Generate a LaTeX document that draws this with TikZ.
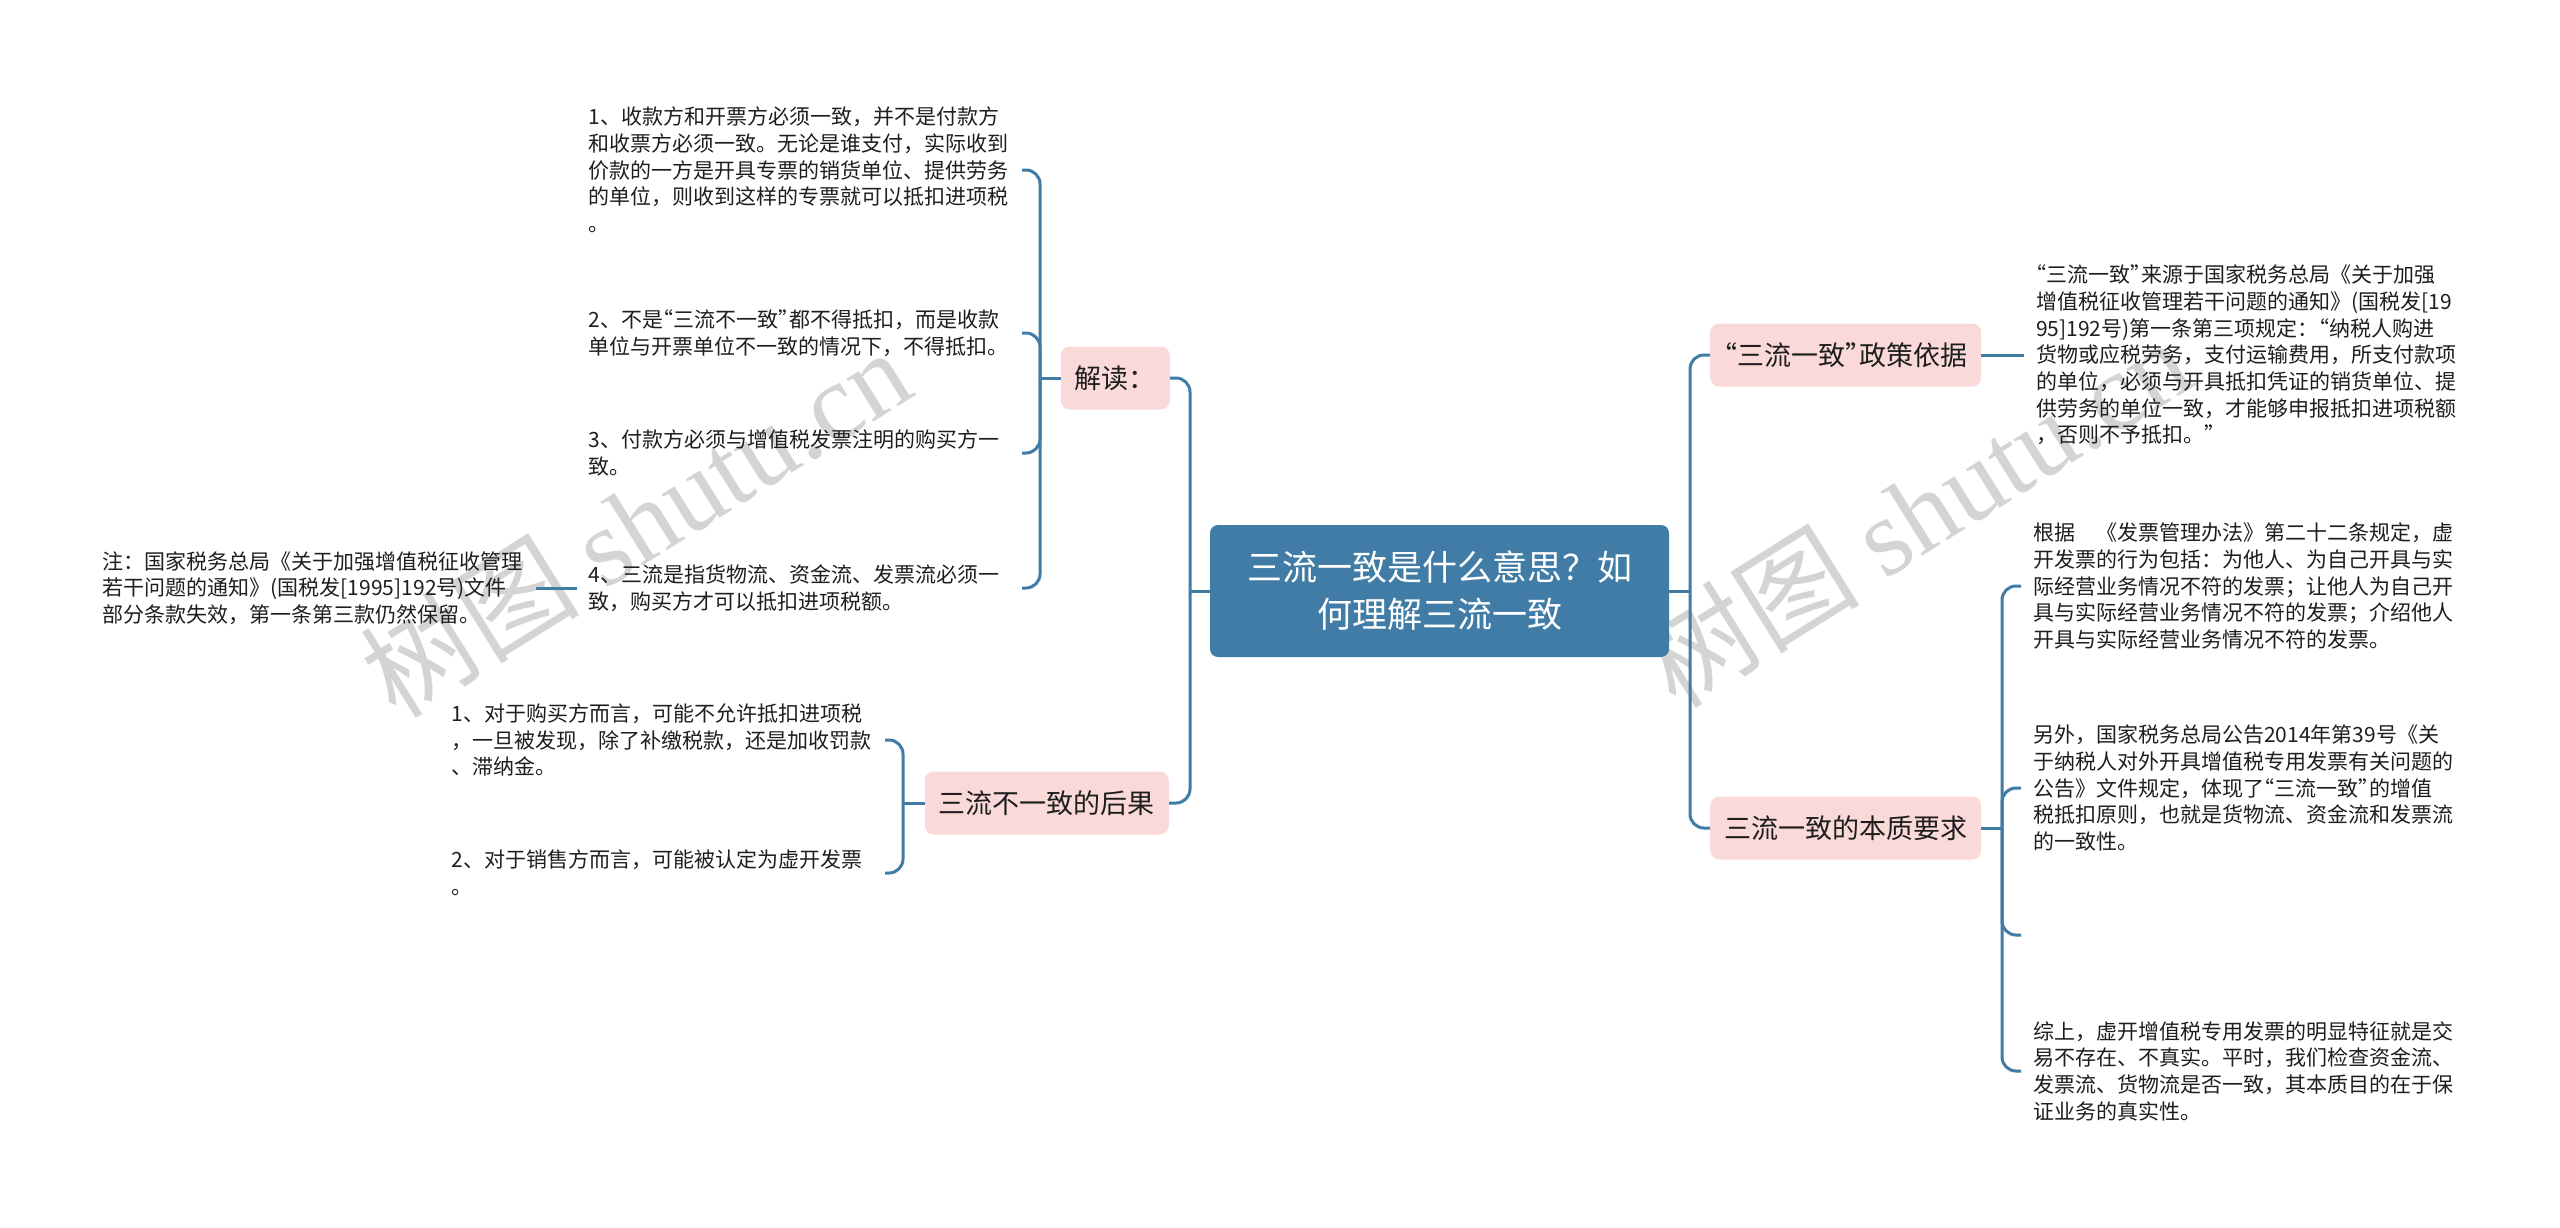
\documentclass[tikz,border=0pt]{standalone}
\usepackage{fontspec}
\setmainfont{Noto Sans CJK SC}
\newfontfamily\wmlatin{Liberation Serif}
\newcommand{\qopen}{\makebox[0.5em][r]{“}}
\newcommand{\qclose}{\makebox[0.5em][l]{”}}
\definecolor{mapblue}{RGB}{64,124,165}
\definecolor{mappink}{RGB}{250,217,217}
\definecolor{leafink}{RGB}{30,30,30}
\tikzset{
  link/.style={draw=mapblue, line width=3pt, rounded corners=14pt},
  rootbox/.style={fill=mapblue, text=white, rounded corners=8pt, minimum width=459pt, minimum height=132pt, align=center, font=\fontsize{35}{47}\selectfont},
  topicbox/.style={fill=mappink, text=leafink, rounded corners=9pt, minimum height=63pt, inner xsep=14pt, font=\fontsize{27}{32}\selectfont},
  leaftext/.style={text=leafink, text width=421pt, align=left, inner xsep=12pt, inner ysep=0pt, font=\fontsize{21}{26.7}\selectfont},
  watermark/.style={text=black!17, rotate=32, font=\fontsize{110}{110}\selectfont}
}
\begin{document}
\begin{tikzpicture}[x=1pt,y=-1pt]
        \fill [white] (0,0) rectangle (2560,1227);
        \useasboundingbox (0,0) rectangle (2560,1227);
        \node [watermark] (wmL) at (635,522) {树图 {\wmlatin shutu.cn}};
        \node [watermark] (wmR) at (1915,512) {树图 {\wmlatin shutu.cn}};

        \node [rootbox] (root) at (1439.5,591) {三流一致是什么意思？如\\何理解三流一致};
        \node [topicbox, anchor=east] (jiedu) at (1170,378) {解读：};
        \node [topicbox, anchor=east] (houguo) at (1169,803) {三流不一致的后果};
        \node [topicbox, anchor=west] (yiju) at (1710,355) {\qopen 三流一致\qclose 政策依据};
        \node [topicbox, anchor=west] (benzhi) at (1710,828) {三流一致的本质要求};

        \node [leaftext, anchor=east] (jd1) at (1022,170) {1、收款方和开票方必须一致，并不是付款方\\和收票方必须一致。无论是谁支付，实际收到\\价款的一方是开具专票的销货单位、提供劳务\\的单位，则收到这样的专票就可以抵扣进项税\\。};
        \node [leaftext, anchor=east] (jd2) at (1022,333) {2、不是\qopen 三流不一致\qclose 都不得抵扣，而是收款\\单位与开票单位不一致的情况下，不得抵扣。};
        \node [leaftext, anchor=east] (jd3) at (1022,453) {3、付款方必须与增值税发票注明的购买方一\\致。};
        \node [leaftext, anchor=east] (jd4) at (1022,588) {4、三流是指货物流、资金流、发票流必须一\\致，购买方才可以抵扣进项税额。};
        \node [leaftext, anchor=east] (note) at (536,588) {注：国家税务总局《关于加强增值税征收管理\\若干问题的通知》(国税发[1995]192号)文件\\部分条款失效，第一条第三款仍然保留。};
        \node [leaftext, anchor=east] (hg1) at (885,740) {1、对于购买方而言，可能不允许抵扣进项税\\，一旦被发现，除了补缴税款，还是加收罚款\\、滞纳金。};
        \node [leaftext, anchor=east] (hg2) at (885,873) {2、对于销售方而言，可能被认定为虚开发票\\。};
        \node [leaftext, anchor=west] (yj1) at (2024,355) {\qopen 三流一致\qclose 来源于国家税务总局《关于加强\\增值税征收管理若干问题的通知》(国税发[19\\95]192号)第一条第三项规定：\qopen 纳税人购进\\货物或应税劳务，支付运输费用，所支付款项\\的单位，必须与开具抵扣凭证的销货单位、提\\供劳务的单位一致，才能够申报抵扣进项税额\\，否则不予抵扣。\qclose};
        \node [leaftext, anchor=west] (bz1) at (2021,586) {根据\hspace{1em}《发票管理办法》第二十二条规定，虚\\开发票的行为包括：为他人、为自己开具与实\\际经营业务情况不符的发票；让他人为自己开\\具与实际经营业务情况不符的发票；介绍他人\\开具与实际经营业务情况不符的发票。};
        \node [leaftext, anchor=west] (bz2) at (2021,788) {另外，国家税务总局公告2014年第39号《关\\于纳税人对外开具增值税专用发票有关问题的\\公告》文件规定，体现了\qopen 三流一致\qclose 的增值\\税抵扣原则，也就是货物流、资金流和发票流\\的一致性。};
        \coordinate (bz3) at (2021,935);
        \node [leaftext, anchor=west] (bz4) at (2021,1071) {综上，虚开增值税专用发票的明显特征就是交\\易不存在、不真实。平时，我们检查资金流、\\发票流、货物流是否一致，其本质目的在于保\\证业务的真实性。};

        \coordinate (rootL) at (1190,591);
        \coordinate (rootR) at (1690,591);
        \coordinate (jdJ) at (1040,378);
        \coordinate (hgJ) at (903,803);
        \coordinate (bzJ) at (2002,828);

        \draw [link] (root.west) -- (rootL);
        \draw [link] (rootL) |- (jiedu.east);
        \draw [link] (rootL) |- (houguo.east);
        \draw [link] (root.east) -- (rootR);
        \draw [link] (rootR) |- (yiju.west);
        \draw [link] (rootR) |- (benzhi.west);
        \draw [link] (jiedu.west) -- (jdJ);
        \draw [link] (jdJ) |- (jd1.east);
        \draw [link] (jdJ) |- (jd2.east);
        \draw [link] (jdJ) |- (jd3.east);
        \draw [link] (jdJ) |- (jd4.east);
        \draw [link] (jd4.west) -- (note.east);
        \draw [link] (houguo.west) -- (hgJ);
        \draw [link] (hgJ) |- (hg1.east);
        \draw [link] (hgJ) |- (hg2.east);
        \draw [link] (yiju.east) -- (yj1.west);
        \draw [link] (benzhi.east) -- (bzJ);
        \draw [link] (bzJ) |- (bz1.west);
        \draw [link] (bzJ) |- (bz2.west);
        \draw [link] (bzJ) |- (bz3);
        \draw [link] (bzJ) |- (bz4.west);

    \end{tikzpicture}
\end{document}
